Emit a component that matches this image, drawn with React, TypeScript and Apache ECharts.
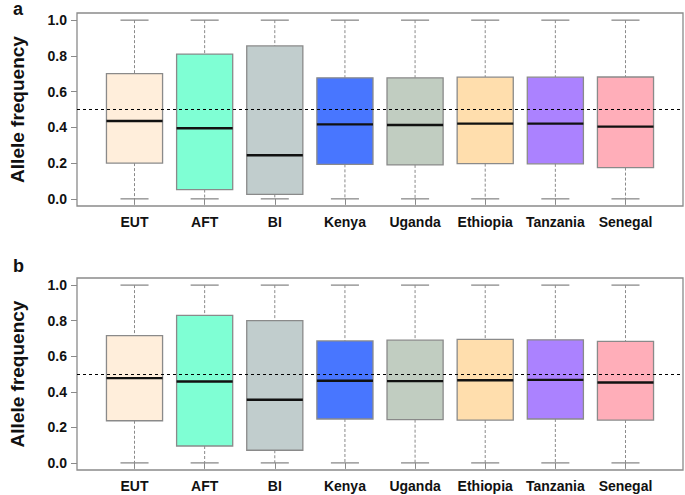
import React, { useEffect, useRef } from "react";
import * as echarts from "echarts";

const categories = ["EUT", "AFT", "BI", "Kenya", "Uganda", "Ethiopia", "Tanzania", "Senegal"];
const boxColors = ["#FFEEDB", "#7FFFD4", "#C1CDCD", "#4876FF", "#C1CDC1", "#FFDEAD", "#AB82FF", "#FFAEB9"];
const yTicks = [0, 0.2, 0.4, 0.6, 0.8, 1.0];
const refLine = 0.5;

// [min, Q1, median, Q3, max]
const panelA = [
  [0, 0.2, 0.436, 0.701, 1],
  [0, 0.052, 0.395, 0.81, 1],
  [0, 0.025, 0.244, 0.856, 1],
  [0, 0.193, 0.417, 0.677, 1],
  [0, 0.19, 0.413, 0.677, 1],
  [0, 0.197, 0.421, 0.681, 1],
  [0, 0.196, 0.421, 0.681, 1],
  [0, 0.175, 0.404, 0.682, 1],
];
const panelB = [
  [0, 0.237, 0.477, 0.716, 1],
  [0, 0.095, 0.458, 0.83, 1],
  [0, 0.071, 0.355, 0.8, 1],
  [0, 0.247, 0.462, 0.686, 1],
  [0, 0.243, 0.46, 0.69, 1],
  [0, 0.241, 0.465, 0.695, 1],
  [0, 0.247, 0.467, 0.692, 1],
  [0, 0.241, 0.452, 0.684, 1],
];
const panelLabels = ["a", "b"];

const FONT = "Liberation Sans, Arial, sans-serif";
const GREY = "#8a8a8a";

function renderBox(params: any, api: any) {
  const i = api.value(0);
  const mn = api.value(1), q1 = api.value(2), md = api.value(3), q3 = api.value(4), mx = api.value(5);
  const w = api.size([0.8, 0])[0];
  const cap = w / 2;
  const pMin = api.coord([i, mn]);
  const pQ1 = api.coord([i, q1]);
  const pMd = api.coord([i, md]);
  const pQ3 = api.coord([i, q3]);
  const pMax = api.coord([i, mx]);
  const x = pMin[0];
  const color = boxColors[(i - 1) % boxColors.length];
  const dashed = { stroke: GREY, lineWidth: 1, lineDash: [3, 2] };
  const solid = { stroke: GREY, lineWidth: 1.3 };
  return {
    type: "group",
    children: [
      { type: "line", shape: { x1: x, y1: pMax[1], x2: x, y2: pQ3[1] }, style: dashed },
      { type: "line", shape: { x1: x, y1: pQ1[1], x2: x, y2: pMin[1] }, style: dashed },
      { type: "line", shape: { x1: x - cap / 2, y1: pMax[1], x2: x + cap / 2, y2: pMax[1] }, style: solid },
      { type: "line", shape: { x1: x - cap / 2, y1: pMin[1], x2: x + cap / 2, y2: pMin[1] }, style: solid },
      {
        type: "rect",
        shape: { x: x - w / 2, y: pQ3[1], width: w, height: pQ1[1] - pQ3[1] },
        style: { fill: color, stroke: GREY, lineWidth: 1.3 },
      },
      { type: "line", shape: { x1: x - w / 2, y1: pMd[1], x2: x + w / 2, y2: pMd[1] }, style: { stroke: "#111", lineWidth: 2.4 } },
    ],
  };
}

export default function App() {
  const ref = useRef<HTMLDivElement>(null);
  useEffect(() => {
    if (!ref.current) return;
    const chart = echarts.init(ref.current, null, { renderer: "svg" });
    const panels = [panelA, panelB];
    const grids = [
      { left: 61, top: 13, width: 622, height: 193 },
      { left: 61, top: 278, width: 622, height: 192 },
    ];
    const n = categories.length;
    const xPad = n * 0.04;
    const yPad = 0.04;
    const xAxes = grids.map((_, gi) => ({
      type: "value",
      gridIndex: gi,
      min: 0.5 - xPad,
      max: n + 0.5 + xPad,
      splitLine: { show: false },
      axisLine: { show: false },
      axisTick: {
        show: true,
        length: 6,
        lineStyle: { color: GREY, width: 1 },
        customValues: categories.map((_, i) => i + 1),
      },
      axisLabel: {
        customValues: categories.map((_, i) => i + 1),
        formatter: (v: number) => categories[Math.round(v) - 1] ?? "",
        fontFamily: FONT,
        fontWeight: "bold",
        fontSize: 14,
        color: "#111",
        margin: 9,
      },
    }));
    const yAxes = grids.map((_, gi) => ({
      type: "value",
      gridIndex: gi,
      min: -yPad,
      max: 1 + yPad,
      name: "Allele frequency",
      nameLocation: "middle",
      nameGap: 50,
      nameTextStyle: { fontFamily: FONT, fontWeight: "bold", fontSize: 19, color: "#111" },
      splitLine: { show: false },
      axisLine: { show: false },
      axisTick: { show: true, length: 6, lineStyle: { color: GREY, width: 1 }, customValues: yTicks },
      axisLabel: {
        customValues: yTicks,
        formatter: (v: number) => v.toFixed(1),
        fontFamily: FONT,
        fontWeight: "bold",
        fontSize: 14,
        color: "#111",
        margin: 10,
      },
    }));
    const series: any[] = [];
    panels.forEach((data, gi) => {
      series.push({
        type: "custom",
        xAxisIndex: gi,
        yAxisIndex: gi,
        renderItem: renderBox,
        encode: { x: 0, y: [1, 2, 3, 4, 5] },
        data: data.map((d, i) => [i + 1, ...d]),
        z: 2,
        markLine: {
          silent: true,
          symbol: "none",
          label: { show: false },
          lineStyle: { color: "#000", type: [3, 3], width: 1.2 },
          data: [{ yAxis: refLine }],
          z: 5,
        },
      });
    });
    chart.setOption({
      animation: false,
      backgroundColor: "#fff",
      grid: grids.map((g) => ({ ...g, show: true, borderColor: GREY, borderWidth: 1.3, backgroundColor: "transparent" })),
      xAxis: xAxes,
      yAxis: yAxes,
      series,
      graphic: panelLabels.map((t, gi) => ({
        type: "text",
        left: 13,
        top: gi === 0 ? 0 : 257,
        style: { text: t, font: `bold 18px ${FONT}`, fill: "#111" },
      })),
    });
    return () => chart.dispose();
  }, []);
  return <div ref={ref} style={{ width: 685, height: 495, position: "absolute", left: 0, top: 0 }} />;
}
